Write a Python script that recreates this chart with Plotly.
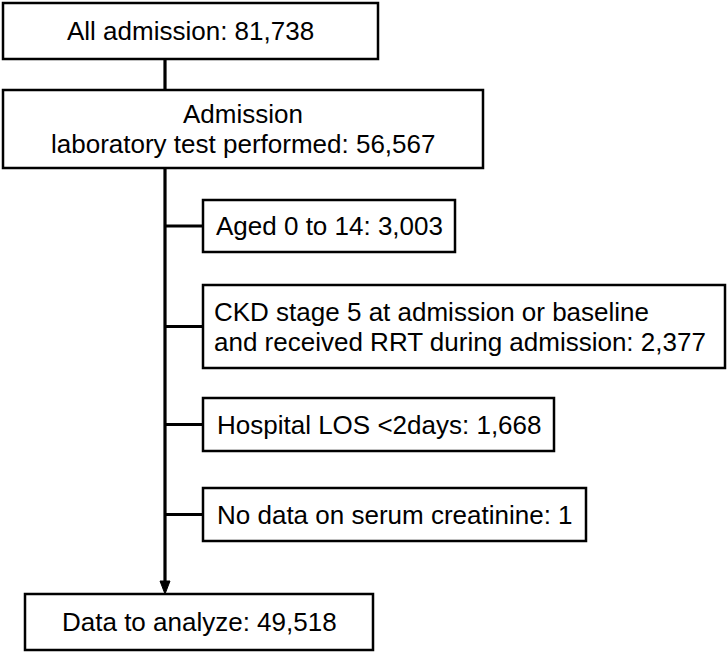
import plotly.graph_objects as go

# ---- data ----
main_labels = ["All admission", "Admission<br>laboratory test performed", "Data to analyze"]
main_counts = [81738, 56567, 49518]
excl_labels = [
    "Aged 0 to 14",
    "CKD stage 5 at admission or baseline<br>and received RRT during admission",
    "Hospital LOS <2days",
    "No data on serum creatinine",
]
excl_counts = [3003, 2377, 1668, 1]

# ---- layout geometry (page pixels, y downward) ----
main_boxes = [(3, 3, 378, 59), (3, 90, 483, 168), (25, 594, 373, 650)]
excl_boxes = [(203, 200, 455, 252), (203, 285, 725, 368), (203, 398, 554, 451), (203, 488, 586, 541)]
spine_x = 165
FONT = dict(family="Liberation Sans, Arial, sans-serif", size=26, color="black")
LINE_GAP = 30

fig = go.Figure()
shapes = []
annots = []


def add_box(box, label, count, left_multiline=False):
    x0, y0, x1, y1 = box
    shapes.append(dict(type="rect", xref="x", yref="y", x0=x0, y0=y0, x1=x1, y1=y1,
                       line=dict(color="black", width=2.5), fillcolor="white", layer="above"))
    text = f"{label}: {count:,}"
    lines = text.split("<br>")
    cy = (y0 + y1) / 2
    n = len(lines)
    for i, ln in enumerate(lines):
        yy = cy + (i - (n - 1) / 2) * LINE_GAP
        if left_multiline and n > 1:
            xa, xx = "left", x0 + 9
        else:
            xa, xx = "center", (x0 + x1) / 2
        annots.append(dict(x=xx, y=yy, xref="x", yref="y", text=ln,
                           showarrow=False, xanchor=xa, yanchor="middle", font=FONT))


# connectors
b1, b2, b3 = main_boxes
shapes.append(dict(type="line", x0=spine_x, x1=spine_x, y0=b1[3], y1=b2[1],
                   line=dict(color="black", width=3.2)))
shapes.append(dict(type="line", x0=spine_x, x1=spine_x, y0=b2[3], y1=b3[1] - 10,
                   line=dict(color="black", width=3.2)))
shapes.append(dict(type="path", path=f"M {spine_x-5},{b3[1]-13} L {spine_x+5},{b3[1]-13} L {spine_x},{b3[1]} Z",
                   fillcolor="black", line=dict(color="black", width=1)))
for bx in excl_boxes:
    cy = (bx[1] + bx[3]) / 2
    shapes.append(dict(type="line", x0=spine_x, x1=bx[0], y0=cy, y1=cy,
                       line=dict(color="black", width=3.2)))

for bx, lab, c in zip(main_boxes, main_labels, main_counts):
    add_box(bx, lab, c)
for bx, lab, c in zip(excl_boxes, excl_labels, excl_counts):
    add_box(bx, lab, c, left_multiline=True)

fig.update_layout(
    width=728, height=654,
    margin=dict(l=0, r=0, t=0, b=0),
    paper_bgcolor="white", plot_bgcolor="white",
    xaxis=dict(range=[0, 728], visible=False, fixedrange=True),
    yaxis=dict(range=[654, 0], visible=False, fixedrange=True),
    shapes=shapes, annotations=annots, showlegend=False,
)
fig.write_html(
    "out.html",
    config={"displayModeBar": False},
    post_script="document.body.style.margin='0';document.body.style.overflow='hidden';",
)
